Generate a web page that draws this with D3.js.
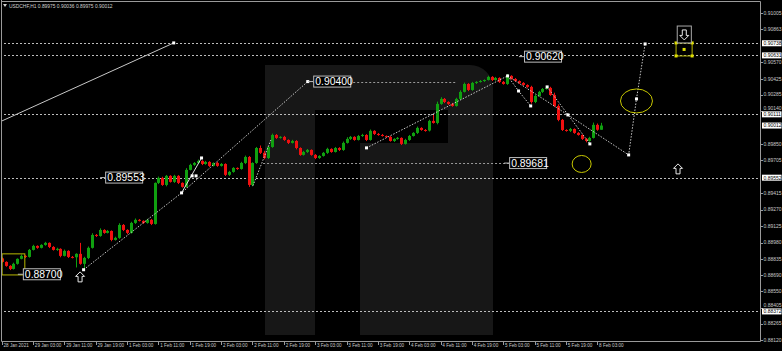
<!DOCTYPE html>
<html>
<head>
<meta charset="utf-8">
<script src="https://cdn.jsdelivr.net/npm/d3@7"></script>
<style>
  body { margin: 0; background: #000; }
  svg { display: block; }
  text { font-family: "Liberation Sans", Arial, sans-serif; }
</style>
</head>
<body>
<div id="chart"></div>
<script>
// USDCHF H1
var symbolTitle = "USDCHF,H1  0.89975 0.90036 0.89975 0.90012";

var firstOpen = 0.88840;
var closes = [
  0.88809,0.88774,0.88747,0.88792,0.88836,0.88862,0.88853,0.88915,0.88950,0.88933,
  0.88959,0.88977,0.88941,0.88915,0.88924,0.88862,0.88906,0.88853,0.88850,0.88880,
  0.88792,0.88844,0.88933,0.89047,0.89038,0.89091,0.89065,0.89082,0.89003,0.89021,
  0.89135,0.89091,0.89065,0.89153,0.89180,0.89171,0.89153,0.89180,0.89144,0.89506,
  0.89550,0.89488,0.89568,0.89515,0.89568,0.89506,0.89471,0.89621,0.89665,0.89682,
  0.89700,0.89673,0.89691,0.89656,0.89682,0.89656,0.89673,0.89577,0.89603,0.89638,
  0.89629,0.89682,0.89735,0.89488,0.89682,0.89814,0.89771,0.89726,0.89823,0.89929,
  0.89903,0.89912,0.89885,0.89859,0.89876,0.89814,0.89753,0.89779,0.89797,0.89753,
  0.89726,0.89744,0.89771,0.89806,0.89779,0.89814,0.89797,0.89859,0.89894,0.89912,
  0.89885,0.89920,0.89929,0.89885,0.89965,0.89938,0.89929,0.89920,0.89912,0.89876,
  0.89894,0.89903,0.89850,0.89885,0.89920,0.89947,0.89991,0.89973,0.89968,0.90053,
  0.90035,0.90203,0.90247,0.90220,0.90203,0.90185,0.90247,0.90309,0.90379,0.90326,
  0.90388,0.90397,0.90405,0.90414,0.90441,0.90414,0.90432,0.90397,0.90379,0.90450,
  0.90423,0.90405,0.90388,0.90370,0.90353,0.90220,0.90273,0.90309,0.90335,0.90344,
  0.90282,0.90185,0.90062,0.89973,0.89965,0.89982,0.89947,0.89929,0.89894,0.89876,
  0.89903,0.90018,0.89975,0.90012
];
// wick lengths in points (1 point = 0.00001)
var wickUp = [
  8,5,6,10,4,12,6,8,10,5, 6,9,4,7,10,5,12,6,8,5,
  97,10,12,15,8,14,6,9,5,10, 15,8,6,10,12,7,5,9,8,4,
  12,10,8,6,9,7,5,15,10,8, 12,6,9,7,5,10,8,6,9,7,
  5,10,12,8,6,9,22,18,10,12, 8,6,9,5,10,7,6,9,8,5,
  7,6,8,10,5,9,7,12,15,8, 6,9,10,7,12,6,8,9,5,7,
  6,8,5,10,9,7,12,6,8,10, 52,20,15,8,6,9,10,14,12,7,
  9,6,8,5,10,7,9,6,8,17, 6,8,5,7,6,10,12,9,8,6,
  10,20,15,8,6,9,5,7,6,8, 10,20,12,24
];
var wickDn = [
  6,8,10,5,7,4,9,6,5,8, 5,7,10,6,8,12,5,9,10,90,
  8,53,10,6,9,7,8,5,12,6, 8,10,12,6,9,5,8,7,10,6,
  10,8,12,6,9,10,7,8,5,9, 6,10,7,9,5,8,6,10,9,7,
  8,6,10,17,12,8,10,12,9,7, 9,6,8,10,5,12,8,6,9,7,
  10,8,6,9,7,5,10,8,6,9, 7,5,8,10,6,9,7,5,8,6,
  9,7,10,6,8,5,9,7,10,8, 6,12,8,10,9,7,6,8,5,10,
  7,9,6,8,5,10,7,9,6,8, 5,7,9,6,8,15,10,7,9,6,
  8,10,12,9,7,10,8,6,9,12, 7,5,9,0
];

// one label every 8 bars
var timeLabels = ["28 Jan 2021","29 Jan 03:00","29 Jan 11:00","29 Jan 19:00",
  "1 Feb 03:00","1 Feb 11:00","1 Feb 19:00","2 Feb 03:00","2 Feb 11:00","2 Feb 19:00",
  "3 Feb 03:00","3 Feb 11:00","3 Feb 19:00","4 Feb 03:00","4 Feb 11:00","4 Feb 19:00",
  "5 Feb 03:00","5 Feb 11:00","5 Feb 19:00","8 Feb 03:00"];
var priceTicks = [0.91005,0.90863,0.90570,0.90425,0.90285,0.90140,0.89850,0.89705,
  0.89415,0.89270,0.89125,0.88980,0.88835,0.88690,0.88550,0.88405,0.88265,0.88120];

var levelLines = [0.90738, 0.90631, 0.90111, 0.89552, 0.88372];
var markedPrices = [0.90738, 0.90631, 0.90111, 0.90012, 0.89552, 0.88372];

var tagTexts  = ["0.88700", "0.89553", "0.90400", "0.89681", "0.90620"];
var tagBars   = [5.4, 26.4, 79.5, 129.5, 133.3];
var tagPrices = [0.88700, 0.89553, 0.90400, 0.89681, 0.90620];
// short dotted lines that belong to tags: [price, fromBar, toBar]
var tagLines = [[0.90400, 79.5, 116], [0.89681, 66.7, 129.5]];

// trend line top-left (solid)
var trendLine = [[-0.5, 0.90044], [43.9, 0.90741]];
// wave lines: [bar, price]
var dottedWaves = [
  [[20.9, 0.88740], [45.9, 0.89418], [78.1, 0.90400]],
  [[64.1, 0.89480], [68.7, 0.89885]],
  [[93.1, 0.89815], [129.1, 0.90450]],
  [[129.1, 0.90450], [131.9, 0.90317], [135.0, 0.90185]],
  [[139.2, 0.90353], [150.1, 0.89850]],
  [[129.1, 0.90450], [144.5, 0.90106], [160.0, 0.89753], [162.0, 0.90247], [164.2, 0.90732]]
];
var solidWaves = [[[45.9, 0.89418], [51.0, 0.89726]]];
var pivots = [[20.9,0.88740],[45.9,0.89418],[51.0,0.89726],[48.6,0.89568],[49.6,0.89568],
  [78.1,0.90400],[93.1,0.89815],[129.1,0.90450],[131.9,0.90317],[135.0,0.90185],
  [139.2,0.90353],[144.5,0.90106],[150.1,0.89850],[160.0,0.89753],[162.0,0.90247],
  [164.2,0.90732],[43.9,0.90741]];

var ellipses = [[162.0, 0.90229, 16, 12], [148.0, 0.89673, 9.5, 8.5]];
var yellowBoxes = [[0.1, 5.9, 0.88880, 0.88694], [172.1, 176.2, 0.90741, 0.90626]];
var upArrows = [[20.0, 0.88721], [172.6, 0.89674]];
var downArrowBox = [172.4, 176.0, 0.90890, 0.90741];

var W = 782, H = 351;
var plotRight = 760, plotBottom = 341;

var x = d3.scaleLinear().domain([0, 152]).range([1.7, 597.3]);
var y = d3.scaleLinear().domain([0.88120, 0.91005]).range([340, 13]);

var svg = d3.select("#chart").append("svg")
  .attr("width", W).attr("height", H)
  .style("background", "#000");

svg.append("clipPath").attr("id", "plot")
  .append("rect").attr("x", 1).attr("y", 1)
  .attr("width", plotRight - 1).attr("height", plotBottom - 1);

var chart = svg.append("g").attr("clip-path", "url(#plot)");

// watermark logo
chart.append("path")
  .attr("d", "M265,65 H470 A23,23 0 0 1 493,88 V335 H360 V143 H448 V110 H315 V335 H265 Z")
  .attr("fill", "#171717");

// horizontal levels
chart.selectAll("line.level").data(levelLines).enter().append("line")
  .attr("x1", 0).attr("x2", plotRight)
  .attr("y1", d => Math.round(y(d)) + 0.5).attr("y2", d => Math.round(y(d)) + 0.5)
  .attr("stroke", "#bdbdbd").attr("stroke-dasharray", "2,2");

chart.selectAll("line.tagline").data(tagLines).enter().append("line")
  .attr("x1", d => x(d[1])).attr("x2", d => x(d[2]))
  .attr("y1", d => Math.round(y(d[0])) + 0.5).attr("y2", d => Math.round(y(d[0])) + 0.5)
  .attr("stroke", "#9a9a9a").attr("stroke-dasharray", "2,2");

// candles
var bars = closes.map(function(c, i) {
  var o = i === 0 ? firstOpen : closes[i - 1];
  return {
    i: i, o: o, c: c,
    h: Math.max(o, c) + wickUp[i] / 1e5,
    l: Math.min(o, c) - wickDn[i] / 1e5
  };
});
var candle = chart.append("g").selectAll("g").data(bars).enter().append("g");
candle.append("line")
  .attr("x1", d => Math.round(x(d.i)) + 0.5).attr("x2", d => Math.round(x(d.i)) + 0.5)
  .attr("y1", d => y(d.h)).attr("y2", d => y(d.l))
  .attr("stroke", d => d.c >= d.o ? "#10a010" : "#f01010");
candle.append("rect")
  .attr("x", d => Math.round(x(d.i)) - 1)
  .attr("width", 3)
  .attr("y", d => y(Math.max(d.o, d.c)))
  .attr("height", d => Math.max(1, Math.abs(y(d.o) - y(d.c))))
  .attr("fill", d => d.c >= d.o ? "#10a010" : "#f01010");

// wave drawings
var lineGen = d3.line().x(d => x(d[0])).y(d => y(d[1]));
chart.append("path").attr("d", lineGen(trendLine))
  .attr("fill", "none").attr("stroke", "#c8c8c8");
chart.selectAll("path.dw").data(dottedWaves).enter().append("path")
  .attr("d", lineGen).attr("fill", "none")
  .attr("stroke", "#c8c8c8").attr("stroke-dasharray", "1.5,1.5");
chart.selectAll("path.sw").data(solidWaves).enter().append("path")
  .attr("d", lineGen).attr("fill", "none").attr("stroke", "#e0e0e0");
chart.selectAll("rect.pivot").data(pivots).enter().append("rect")
  .attr("x", d => x(d[0]) - 1.5).attr("y", d => y(d[1]) - 1.5)
  .attr("width", 3).attr("height", 3).attr("fill", "#fff");

// yellow drawings
chart.selectAll("ellipse").data(ellipses).enter().append("ellipse")
  .attr("cx", d => x(d[0])).attr("cy", d => y(d[1]))
  .attr("rx", d => d[2]).attr("ry", d => d[3])
  .attr("fill", "none").attr("stroke", "#c8c800");
chart.selectAll("rect.ybox").data(yellowBoxes).enter().append("rect")
  .attr("x", d => x(d[0])).attr("y", d => y(d[2]))
  .attr("width", d => x(d[1]) - x(d[0])).attr("height", d => y(d[3]) - y(d[2]))
  .attr("fill", "none").attr("stroke", "#b8b800");
var tb = yellowBoxes[1];
[[tb[0], tb[2]], [tb[1], tb[2]], [tb[0], tb[3]], [tb[1], tb[3]]].forEach(function(p) {
  chart.append("rect").attr("x", x(p[0]) - 1.5).attr("y", y(p[1]) - 1.5)
    .attr("width", 3).attr("height", 3).attr("fill", "#e0e000");
});
chart.append("rect")
  .attr("x", x((tb[0] + tb[1]) / 2) - 1.5).attr("y", y((tb[2] + tb[3]) / 2) - 1.5)
  .attr("width", 3).attr("height", 3).attr("fill", "#e0e000");

// arrows
var upPath = "M0,0 L4.5,4.5 L2,4.5 L2,10 L-2,10 L-2,4.5 L-4.5,4.5 Z";
chart.selectAll("path.up").data(upArrows).enter().append("path")
  .attr("d", upPath)
  .attr("transform", d => "translate(" + x(d[0]) + "," + y(d[1]) + ")")
  .attr("fill", "#000").attr("stroke", "#e8e8e8");
var db = downArrowBox;
chart.append("rect").attr("x", x(db[0])).attr("y", y(db[2]))
  .attr("width", x(db[1]) - x(db[0])).attr("height", y(db[3]) - y(db[2]))
  .attr("fill", "#000").attr("stroke", "#a8a8a8");
chart.append("path")
  .attr("d", "M0,0 L4.5,-4.5 L2,-4.5 L2,-10 L-2,-10 L-2,-4.5 L-4.5,-4.5 Z")
  .attr("transform", "translate(" + x((db[0] + db[1]) / 2) + "," + (y(db[3]) - 3) + ")")
  .attr("fill", "#000").attr("stroke", "#e8e8e8");

// price tags
var tags = chart.selectAll("g.tag").data(tagTexts).enter().append("g")
  .attr("transform", (d, i) => "translate(" + x(tagBars[i]) + "," + y(tagPrices[i]) + ")");
tags.append("line").attr("x1", -5).attr("x2", 0).attr("y1", 0).attr("y2", 0)
  .attr("stroke", "#bdbdbd");
tags.append("rect").attr("x", 0.5).attr("y", -5.5).attr("width", 37).attr("height", 11)
  .attr("fill", "#000").attr("stroke", "#bdbdbd");
tags.append("text").attr("x", 2).attr("y", 3.8)
  .attr("font-size", 10.4).attr("fill", "#fff").text(d => d);

// frame
svg.append("path")
  .attr("d", "M1.5,0 V" + (plotBottom + 0.5) + " H" + (plotRight + 0.5) + " V1.5 H1.5")
  .attr("fill", "none").attr("stroke", "#9a9a9a");

// title
svg.append("path").attr("d", "M3,4 L7,4 L5,7 Z").attr("fill", "#d0d0d0");
svg.append("text").attr("x", 9).attr("y", 7.5)
  .attr("font-size", 4.9).attr("fill", "#d0d0d0").text(symbolTitle);

// price axis; a tick label that sits right on a marked price is nudged off it
function nudge(p) {
  var yy = y(p);
  markedPrices.forEach(function(m) {
    var d = yy - y(m);
    if (Math.abs(d) < 6.5) yy = y(m) + (d < 0 ? -6.5 : 6.5);
  });
  return yy;
}
var pa = svg.append("g");
pa.selectAll("line").data(priceTicks).enter().append("line")
  .attr("x1", plotRight).attr("x2", plotRight + 3)
  .attr("y1", d => Math.round(y(d)) + 0.5).attr("y2", d => Math.round(y(d)) + 0.5)
  .attr("stroke", "#9a9a9a");
pa.selectAll("text").data(priceTicks).enter().append("text")
  .attr("x", plotRight + 3.5).attr("y", d => nudge(d) + 1.8)
  .attr("font-size", 5).attr("fill", "#c8c8c8")
  .text(d => d.toFixed(5));
var marks = svg.selectAll("g.mark").data(markedPrices).enter().append("g")
  .attr("transform", d => "translate(" + (plotRight + 2) + "," + y(d) + ")");
marks.append("rect").attr("x", 0).attr("y", -3).attr("width", 19.5).attr("height", 6)
  .attr("fill", "#fff");
marks.append("text").attr("x", 1.5).attr("y", 1.8)
  .attr("font-size", 5).attr("fill", "#000").text(d => d.toFixed(5));

// time axis
var ta = svg.append("g");
ta.selectAll("line").data(timeLabels).enter().append("line")
  .attr("x1", (d, i) => Math.round(x(i * 8)) + 0.5).attr("x2", (d, i) => Math.round(x(i * 8)) + 0.5)
  .attr("y1", plotBottom).attr("y2", plotBottom + 4)
  .attr("stroke", "#9a9a9a");
ta.selectAll("text").data(timeLabels).enter().append("text")
  .attr("x", (d, i) => x(i * 8) + 1.8).attr("y", plotBottom + 6.3)
  .attr("font-size", 4.6).attr("fill", "#c8c8c8").text(d => d);
</script>
</body>
</html>
